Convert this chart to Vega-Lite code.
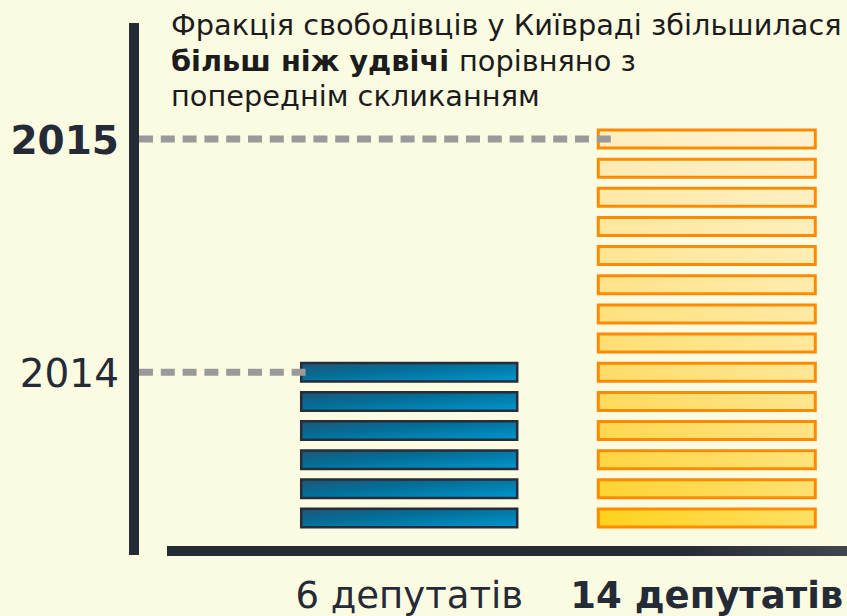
{
  "$schema": "https://vega.github.io/schema/vega-lite/v6.json",
  "width": 847,
  "height": 616,
  "autosize": "none",
  "padding": 0,
  "background": "#FBFBE2",
  "config": {"view": {"stroke": null}, "font": "DejaVu Sans"},
  "datasets": {
    "seats": [
      {"year": "2014", "seat": 1}, {"year": "2014", "seat": 2}, {"year": "2014", "seat": 3},
      {"year": "2014", "seat": 4}, {"year": "2014", "seat": 5}, {"year": "2014", "seat": 6},
      {"year": "2015", "seat": 1}, {"year": "2015", "seat": 2}, {"year": "2015", "seat": 3},
      {"year": "2015", "seat": 4}, {"year": "2015", "seat": 5}, {"year": "2015", "seat": 6},
      {"year": "2015", "seat": 7}, {"year": "2015", "seat": 8}, {"year": "2015", "seat": 9},
      {"year": "2015", "seat": 10}, {"year": "2015", "seat": 11}, {"year": "2015", "seat": 12},
      {"year": "2015", "seat": 13}, {"year": "2015", "seat": 14}
    ],
    "totals": [
      {"year": "2014", "deputies": 6, "label": "6 депутатів"},
      {"year": "2015", "deputies": 14, "label": "14 депутатів"}
    ]
  },
  "data": {"name": "seats"},
  "layer": [
    {
      "encoding": {
        "x": {"field": "year", "type": "nominal", "scale": {"domain": ["2014", "2015"], "range": [300, 816], "paddingInner": 0.266, "paddingOuter": 0}, "axis": null}
      },
      "layer": [
        {
          "transform": [{"filter": "datum.year == '2014'"}],
          "mark": {
            "type": "tick", "size": 216, "thickness": 18.5, "opacity": 1,
            "fill": {"gradient": "linear", "x1": 0, "y1": 0, "x2": 1, "y2": 1,
              "stops": [{"offset": 0, "color": "#1F5677"}, {"offset": 0.4, "color": "#036E97"}, {"offset": 1, "color": "#0096CF"}]},
            "stroke": "#262C3A", "strokeWidth": 2.5
          },
          "encoding": {"y": {"field": "seat", "type": "quantitative", "scale": {"domain": [-2.361, 18.768], "nice": false, "zero": false}, "axis": null}}
        },
        {
          "transform": [{"filter": "datum.year == '2015'"}],
          "mark": {"type": "tick", "size": 217, "thickness": 18, "opacity": 1, "stroke": "#FF8A00", "strokeWidth": 3},
          "encoding": {
            "y": {"field": "seat", "type": "quantitative"},
            "color": {"field": "seat", "type": "quantitative", "scale": {"domain": [1, 14], "range": ["#FFD21E", "#FFEDBC"]}, "legend": null}
          }
        },
        {
          "transform": [{"filter": "datum.year == '2015'"}],
          "mark": {
            "type": "tick", "size": 214, "thickness": 15, "opacity": 1,
            "fill": {"gradient": "linear", "x1": 0, "y1": 0, "x2": 1, "y2": 0,
              "stops": [{"offset": 0, "color": "rgba(255,255,255,0)"}, {"offset": 1, "color": "rgba(255,255,255,0.3)"}]}
          },
          "encoding": {"y": {"field": "seat", "type": "quantitative"}}
        },
        {
          "data": {"name": "totals"},
          "transform": [{"filter": "datum.year == '2014'"}],
          "mark": {"type": "text", "fontSize": 37, "color": "#252A37", "baseline": "alphabetic", "align": "center"},
          "encoding": {"y": {"datum": -2.087, "type": "quantitative"}, "text": {"field": "label"}}
        },
        {
          "data": {"name": "totals"},
          "transform": [{"filter": "datum.year == '2015'"}],
          "mark": {"type": "text", "fontSize": 37, "fontWeight": "bold", "color": "#252A37", "baseline": "alphabetic", "align": "center"},
          "encoding": {"y": {"datum": -2.087, "type": "quantitative"}, "text": {"field": "label"}}
        }
      ]
    },
    {
      "encoding": {
        "x": {"datum": 0, "type": "quantitative", "scale": {"domain": [0, 847], "nice": false, "zero": false}, "axis": null}
      },
      "layer": [
        {
          "data": {"values": [{}]},
          "mark": {"type": "rect", "color": "#252A37"},
          "encoding": {"x": {"datum": 129, "type": "quantitative"}, "x2": {"datum": 139}, "y": {"datum": 17.979, "type": "quantitative"}, "y2": {"datum": -0.269}}
        },
        {
          "data": {"values": [{}]},
          "mark": {"type": "rect",
            "fill": {"gradient": "linear", "x1": 0, "y1": 0, "x2": 1, "y2": 0,
              "stops": [{"offset": 0, "color": "#252A37"}, {"offset": 0.75, "color": "#262B38"}, {"offset": 1, "color": "#40464F"}]}},
          "encoding": {"x": {"datum": 167, "type": "quantitative"}, "x2": {"datum": 847}, "y": {"datum": 0.0396, "type": "quantitative"}, "y2": {"datum": -0.3034}}
        },
        {
          "data": {"name": "totals"},
          "transform": [{"filter": "datum.year == '2014'"}],
          "mark": {"type": "rule", "color": "#9A9A9A", "strokeWidth": 7, "strokeDash": [14, 7.8], "strokeCap": "butt"},
          "encoding": {"x": {"datum": 139, "type": "quantitative"}, "x2": {"datum": 305.6}, "y": {"field": "deputies", "type": "quantitative"}}
        },
        {
          "data": {"name": "totals"},
          "transform": [{"filter": "datum.year == '2015'"}],
          "mark": {"type": "rule", "color": "#9A9A9A", "strokeWidth": 7, "strokeDash": [14, 7.8], "strokeCap": "butt"},
          "encoding": {"x": {"datum": 139, "type": "quantitative"}, "x2": {"datum": 610.8}, "y": {"field": "deputies", "type": "quantitative"}}
        },
        {
          "data": {"name": "totals"},
          "transform": [{"filter": "datum.year == '2014'"}],
          "mark": {"type": "text", "fontSize": 39, "color": "#252A37", "align": "right", "baseline": "alphabetic", "dy": 14.5},
          "encoding": {"x": {"datum": 119, "type": "quantitative"}, "y": {"field": "deputies", "type": "quantitative"}, "text": {"field": "year"}}
        },
        {
          "data": {"name": "totals"},
          "transform": [{"filter": "datum.year == '2015'"}],
          "mark": {"type": "text", "fontSize": 39, "fontWeight": "bold", "color": "#252A37", "align": "right", "baseline": "alphabetic", "dy": 14.5},
          "encoding": {"x": {"datum": 119, "type": "quantitative"}, "y": {"field": "deputies", "type": "quantitative"}, "text": {"field": "year"}}
        },
        {
          "data": {"values": [{"t": "Фракція свободівців у Київраді збільшилася"}]},
          "mark": {"type": "text", "fontSize": 28.8, "color": "#1C1C1C", "align": "left", "baseline": "alphabetic"},
          "encoding": {"x": {"datum": 171, "type": "quantitative"}, "y": {"datum": 17.567, "type": "quantitative"}, "text": {"field": "t"}}
        },
        {
          "data": {"values": [{"t": "більш ніж удвічі"}]},
          "mark": {"type": "text", "fontSize": 28.8, "fontWeight": "bold", "color": "#1C1C1C", "align": "left", "baseline": "alphabetic"},
          "encoding": {"x": {"datum": 171, "type": "quantitative"}, "y": {"datum": 16.349, "type": "quantitative"}, "text": {"field": "t"}}
        },
        {
          "data": {"values": [{"t": "порівняно з"}]},
          "mark": {"type": "text", "fontSize": 28.8, "color": "#1C1C1C", "align": "left", "baseline": "alphabetic"},
          "encoding": {"x": {"datum": 459, "type": "quantitative"}, "y": {"datum": 16.349, "type": "quantitative"}, "text": {"field": "t"}}
        },
        {
          "data": {"values": [{"t": "попереднім скликанням"}]},
          "mark": {"type": "text", "fontSize": 28.8, "color": "#1C1C1C", "align": "left", "baseline": "alphabetic"},
          "encoding": {"x": {"datum": 171, "type": "quantitative"}, "y": {"datum": 15.132, "type": "quantitative"}, "text": {"field": "t"}}
        }
      ]
    }
  ],
  "resolve": {"scale": {"x": "independent", "color": "independent"}}
}
